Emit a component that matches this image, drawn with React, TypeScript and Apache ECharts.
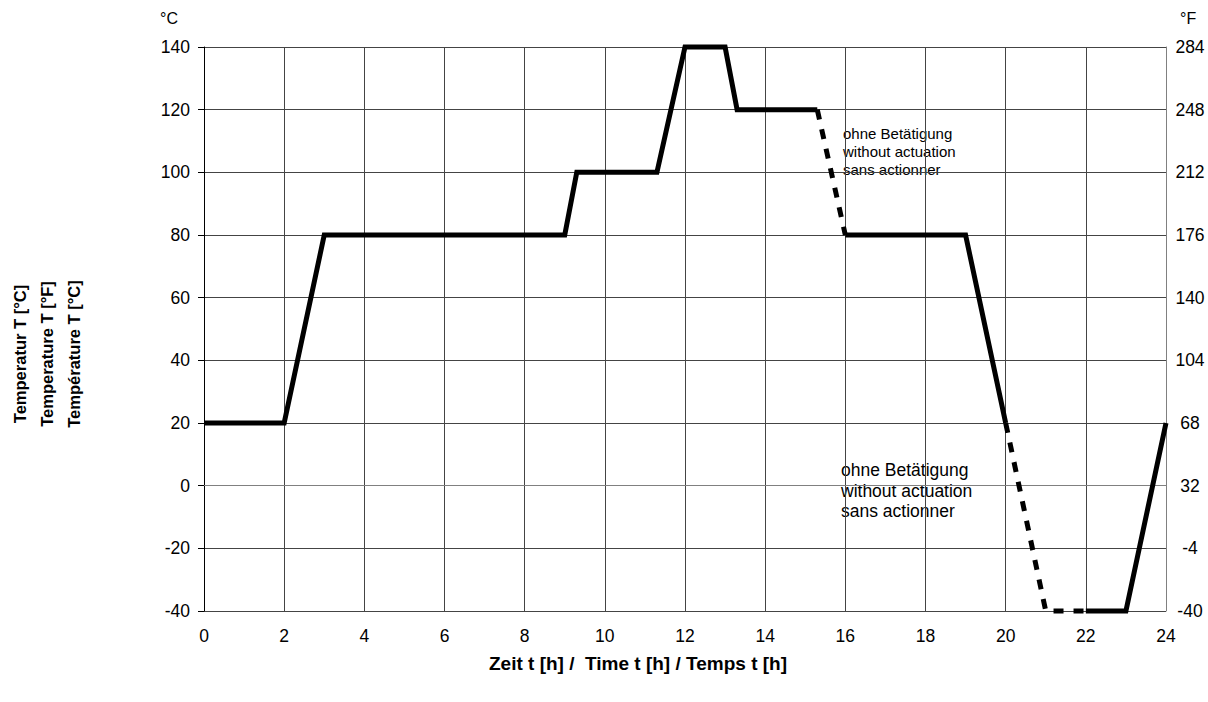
import React, { useEffect, useRef } from "react";
import * as echarts from "echarts";

// Time axis ticks (hours)
const hourTicks = [0, 2, 4, 6, 8, 10, 12, 14, 16, 18, 20, 22, 24];
// Celsius ticks (left) and matching Fahrenheit labels (right)
const celsiusTicks = [-40, -20, 0, 20, 40, 60, 80, 100, 120, 140];
const fahrenheitLabels = ["-40", "-4", "32", "68", "104", "140", "176", "212", "248", "284"];

// Temperature profile segments [hour, °C]
const solidA = [
  [0, 20], [2, 20], [3, 80], [9, 80], [9.3, 100], [11.3, 100],
  [12, 140], [13, 140], [13.3, 120], [15.3, 120],
];
const dashedA = [[15.3, 120], [16, 80]];
const solidB = [[16, 80], [19, 80], [20, 20]];
const dashedB = [[20, 20], [21, -40], [22, -40]];
const solidC = [[22, -40], [23, -40], [24, 20]];

const noteLines = ["ohne Betätigung", "without actuation", "sans actionner"];
const yTitleLines = ["Temperatur T [°C]", "Temperature T [°F]", "Température T [°C]"];
const xTitle = "Zeit t [h] /  Time t [h] / Temps t [h]";

const FONT = "'Liberation Sans', Arial, sans-serif";

export default function App() {
  const ref = useRef<HTMLDivElement>(null);
  useEffect(() => {
    if (!ref.current) return;
    const chart = echarts.init(ref.current, undefined, { renderer: "svg" });
    const lineSeries = (data: number[][], dashed: boolean) => ({
      type: "line",
      data,
      symbol: "none",
      clip: false,
      silent: true,
      lineStyle: {
        color: "#000",
        width: 5,
        type: dashed ? [10, 10] : "solid",
        cap: "butt",
        join: "miter",
      },
    });
    chart.setOption({
      animation: false,
      backgroundColor: "#fff",
      textStyle: { fontFamily: FONT },
      grid: { left: 204, right: 42, top: 47, bottom: 91, containLabel: false },
      xAxis: {
        type: "value",
        min: hourTicks[0],
        max: hourTicks[hourTicks.length - 1],
        interval: 2,
        axisLine: { show: true, lineStyle: { color: "#808080", width: 1 } },
        axisTick: { show: false },
        axisLabel: { color: "#000", fontSize: 17.5, margin: 16, fontFamily: FONT },
        splitLine: { show: true, lineStyle: { color: "#444", width: 1 } },
      },
      yAxis: [
        {
          type: "value",
          min: celsiusTicks[0],
          max: celsiusTicks[celsiusTicks.length - 1],
          interval: 20,
          position: "left",
          axisLine: { show: true, lineStyle: { color: "#000", width: 1 } },
          axisTick: { show: true, length: 6, lineStyle: { color: "#000" } },
          axisLabel: { color: "#000", fontSize: 17.5, margin: 14, fontFamily: FONT },
          splitLine: { show: true, lineStyle: { color: "#444", width: 1 } },
        },
        {
          type: "value",
          min: celsiusTicks[0],
          max: celsiusTicks[celsiusTicks.length - 1],
          interval: 20,
          position: "right",
          axisLine: { show: true, lineStyle: { color: "#808080", width: 1 } },
          axisTick: { show: false },
          axisLabel: {
            color: "#000",
            fontSize: 17.5,
            margin: 24,
            align: "center",
            fontFamily: FONT,
            formatter: (v: number) => {
              const i = celsiusTicks.indexOf(Math.round(v));
              return i >= 0 ? fahrenheitLabels[i] : "";
            },
          },
          splitLine: { show: false },
        },
      ],
      series: [
        lineSeries(solidA, false),
        lineSeries(dashedA, true),
        lineSeries(solidB, false),
        lineSeries(dashedB, true),
        lineSeries(solidC, false),
      ],
      graphic: [
        { type: "text", left: 160, top: 10, style: { text: "°C", fontSize: 16, fill: "#000", fontFamily: FONT } },
        { type: "text", left: 1180, top: 10, style: { text: "°F", fontSize: 16, fill: "#000", fontFamily: FONT } },
        {
          type: "text",
          x: 47,
          y: 354,
          rotation: Math.PI / 2,
          style: {
            text: yTitleLines.join("\n"),
            fontSize: 16.5,
            fontWeight: "bold",
            fill: "#000",
            fontFamily: FONT,
            align: "center",
            verticalAlign: "middle",
            lineHeight: 27,
          },
        },
        {
          type: "text",
          x: 638,
          y: 663,
          style: {
            text: xTitle,
            fontSize: 19,
            fontWeight: "bold",
            fill: "#000",
            fontFamily: FONT,
            align: "center",
            verticalAlign: "middle",
          },
        },
        {
          type: "text",
          x: 843,
          y: 124,
          style: { text: noteLines.join("\n"), fontSize: 15, lineHeight: 18, fill: "#000", fontFamily: FONT },
        },
        {
          type: "text",
          x: 841,
          y: 460,
          style: { text: noteLines.join("\n"), fontSize: 17.5, lineHeight: 20.5, fill: "#000", fontFamily: FONT },
        },
      ],
    });
    return () => chart.dispose();
  }, []);
  return <div ref={ref} style={{ position: "fixed", left: 0, top: 0, width: 1208, height: 702 }} />;
}
